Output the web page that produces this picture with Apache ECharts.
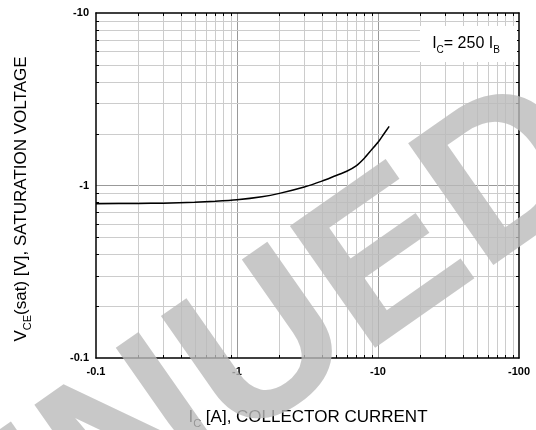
<!DOCTYPE html>
<html><head><meta charset="utf-8">
<script src="https://cdn.jsdelivr.net/npm/echarts@6/dist/echarts.min.js"></script>
<style>html,body{margin:0;padding:0;background:#fff}#c{width:536px;height:430px}</style>
</head><body><div id="c"></div>
<script>
// ---- data ----
const currentA = [0.1, 0.2, 0.3, 0.5, 0.7, 1, 1.5, 2, 3, 4, 5, 6, 7, 8, 9, 10, 11, 12];
const vceSat   = [0.785, 0.787, 0.79, 0.80, 0.81, 0.826, 0.86, 0.90, 0.98, 1.06, 1.14, 1.21, 1.30, 1.44, 1.61, 1.78, 1.99, 2.2];
const xTickLabels = ['-0.1', '-1', '-10', '-100'];
const yTickLabels = ['-0.1', '-1', '-10'];
const xMinorValues = [0.2,0.3,0.4,0.5,0.6,0.7,0.8,0.9, 2,3,4,5,6,7,8,9, 20,30,40,50,60,70,80,90];
const yMinorValues = [0.2,0.3,0.4,0.5,0.6,0.7,0.8,0.9, 2,3,4,5,6,7,8,9];

const FONT = 'Liberation Sans, Arial, sans-serif';
const chart = echarts.init(document.getElementById('c'), null, {renderer: 'canvas'});

const minorData = xMinorValues.map(v => [v, 1, 0]).concat(yMinorValues.map(v => [1, v, 1]));

function renderMinor(params, api) {
  const cs = params.coordSys;
  const kind = api.value(2);
  const p = api.coord([api.value(0), api.value(1)]);
  const grid = {stroke: '#cccccc', lineWidth: 1};
  const tick = {stroke: '#000', lineWidth: 1};
  const T = 3;
  if (kind === 0) {
    const x = Math.round(p[0]) + 0.5;
    return {type: 'group', children: [
      {type: 'line', shape: {x1: x, y1: cs.y, x2: x, y2: cs.y + cs.height}, style: grid},
      {type: 'line', shape: {x1: x, y1: cs.y + cs.height, x2: x, y2: cs.y + cs.height - T}, style: tick},
      {type: 'line', shape: {x1: x, y1: cs.y, x2: x, y2: cs.y + T}, style: tick}
    ]};
  } else {
    const y = Math.round(p[1]) + 0.5;
    return {type: 'group', children: [
      {type: 'line', shape: {x1: cs.x, y1: y, x2: cs.x + cs.width, y2: y}, style: grid},
      {type: 'line', shape: {x1: cs.x, y1: y, x2: cs.x + T, y2: y}, style: tick},
      {type: 'line', shape: {x1: cs.x + cs.width, y1: y, x2: cs.x + cs.width - T, y2: y}, style: tick}
    ]};
  }
}

const axisLabelStyle = {fontWeight: 'bold', fontSize: 11, color: '#000', fontFamily: FONT};
const frameLine = {show: true, lineStyle: {color: '#000', width: 1.5}};
const sub = (fs) => ({fontSize: fs, fontFamily: FONT, fill: '#000', lineHeight: fs, verticalAlign: 'bottom'});
const main = (fs, lh) => ({fontSize: fs, fontFamily: FONT, fill: '#000', lineHeight: lh, verticalAlign: 'middle'});

chart.setOption({
  animation: false,
  grid: {left: 96, top: 13, right: 17, bottom: 72, containLabel: false},
  xAxis: [{
    type: 'log', logBase: 10, min: 0.1, max: 100, position: 'bottom',
    axisLine: frameLine, axisTick: {show: false},
    axisLabel: Object.assign({margin: 8, formatter: v => xTickLabels[Math.round(Math.log10(v)) + 1]}, axisLabelStyle),
    splitLine: {show: true, showMinLine: false, showMaxLine: false, lineStyle: {color: '#999999', width: 1}}
  }, {
    type: 'log', logBase: 10, min: 0.1, max: 100, position: 'top',
    axisLine: frameLine, axisTick: {show: false}, axisLabel: {show: false}, splitLine: {show: false}
  }],
  yAxis: [{
    type: 'log', logBase: 10, min: 0.1, max: 10, position: 'left',
    axisLine: frameLine, axisTick: {show: false},
    axisLabel: Object.assign({margin: 7, formatter: v => yTickLabels[Math.round(Math.log10(v)) + 1]}, axisLabelStyle),
    splitLine: {show: true, showMinLine: false, showMaxLine: false, lineStyle: {color: '#999999', width: 1}}
  }, {
    type: 'log', logBase: 10, min: 0.1, max: 10, position: 'right',
    axisLine: frameLine, axisTick: {show: false}, axisLabel: {show: false}, splitLine: {show: false}
  }],
  series: [{
    type: 'custom', xAxisIndex: 0, yAxisIndex: 0, silent: true, z: 1,
    renderItem: renderMinor, data: minorData, clip: false
  }, {
    type: 'line', xAxisIndex: 0, yAxisIndex: 0, z: 5,
    data: currentA.map((x, i) => [x, vceSat[i]]),
    showSymbol: false, symbol: 'none', smooth: 0.25,
    lineStyle: {color: '#000', width: 1.5}
  }],
  graphic: [
    {type: 'rect', z: 10, shape: {x: 420, y: 26, width: 97, height: 36}, style: {fill: '#fff'}},
    {type: 'text', z: 11, x: 466, y: 44, style: {
      text: '{a|I}{b|C}{a|= 250 I}{b|B}', align: 'center', verticalAlign: 'middle',
      rich: {a: main(16, 22), b: sub(10)}
    }},
    {type: 'text', z: 11, x: 308, y: 417, style: {
      text: '{a|I}{b|C}{a| [A], COLLECTOR CURRENT}', align: 'center', verticalAlign: 'middle',
      rich: {a: main(17, 24), b: sub(11)}
    }},
    {type: 'text', z: 11, x: 21, y: 199, rotation: Math.PI / 2, style: {
      text: '{a|V}{b|CE}{a|(sat) [V], SATURATION VOLTAGE}', align: 'center', verticalAlign: 'middle',
      rich: {a: main(17, 24), b: sub(11)}
    }},
    {type: 'text', z: 100, x: 575, y: 135, rotation: 35 * Math.PI / 180, silent: true, style: {
      text: 'DISCONTINUED', align: 'right', verticalAlign: 'middle',
      font: 'bold 216px ' + FONT, fill: '#bababa', opacity: 0.8
    }}
  ]
});
</script></body></html>
